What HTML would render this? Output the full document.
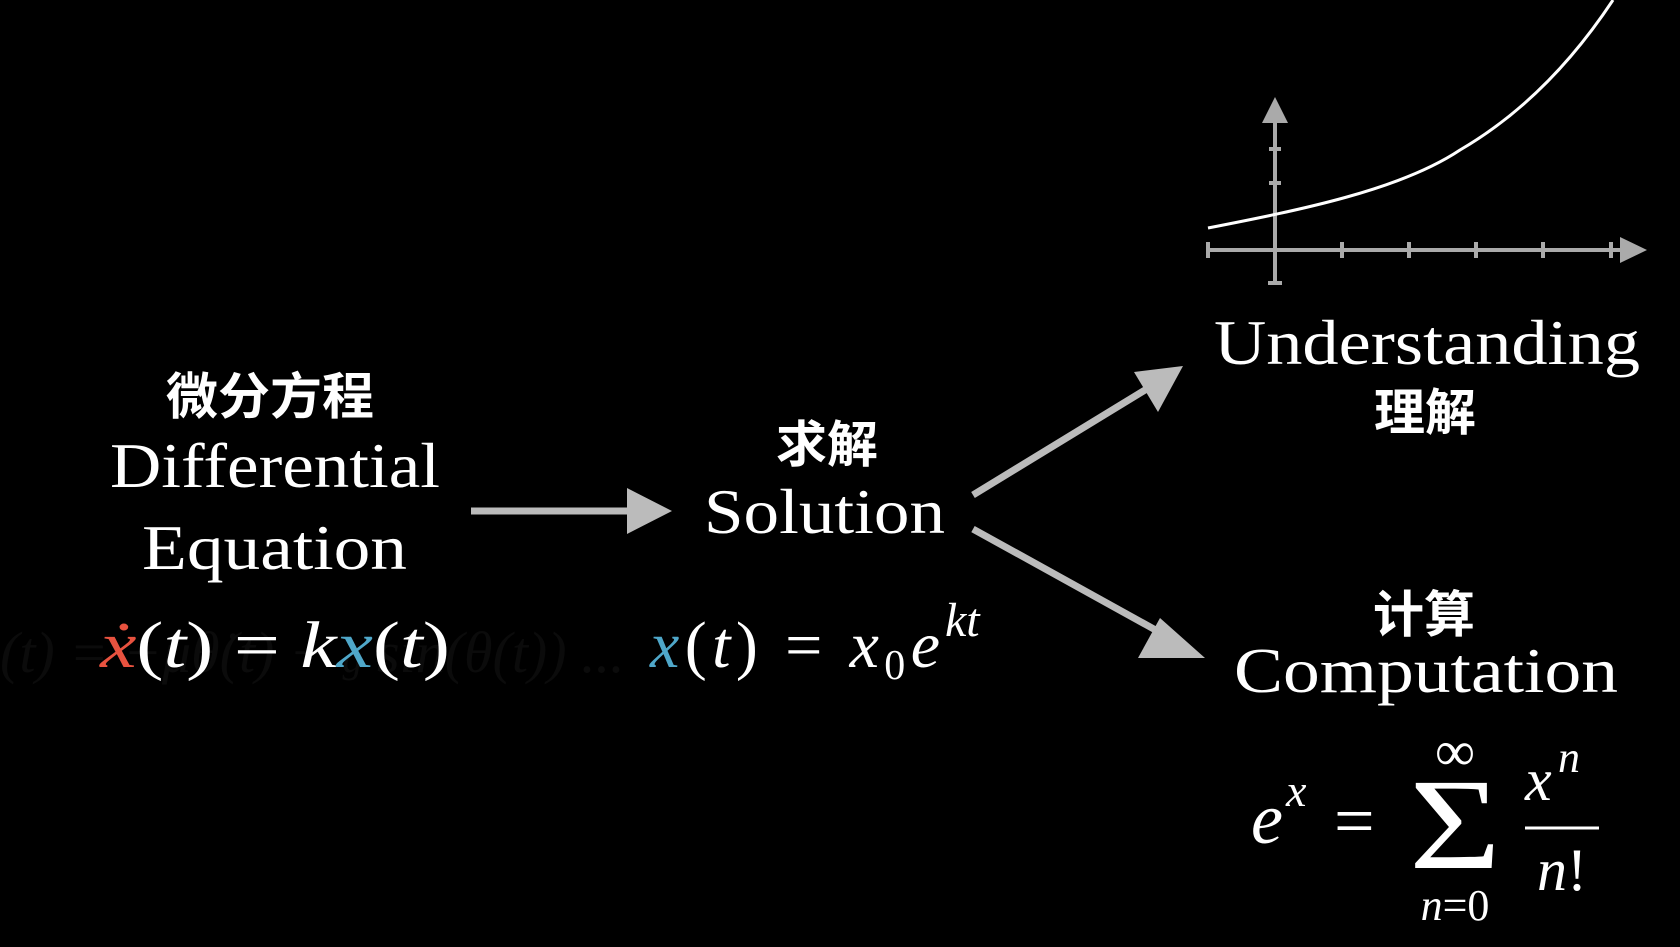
<!DOCTYPE html>
<html><head><meta charset="utf-8"><style>
html,body{margin:0;padding:0;background:#000;}
svg{display:block;}
text{font-family:"Liberation Serif","Noto Serif CJK SC",serif;fill:#fff;}
.cjk{font-family:"Noto Sans CJK SC","WenQuanYi Zen Hei",sans-serif;font-weight:bold;}
.it{font-style:italic;}
</style></head><body>
<svg width="1680" height="947" viewBox="0 0 1680 947" xmlns="http://www.w3.org/2000/svg">
<rect width="1680" height="947" fill="#000"/>
<!-- faded background equation -->
<text x="0" y="672" font-size="58" style="fill:#0b0b0b" class="it">(t) = −μθ̇(t) − <tspan font-size="40">g</tspan> sin(θ(t))   ...</text>

<!-- left block -->
<text class="cjk" x="166" y="414" font-size="50" textLength="208" lengthAdjust="spacingAndGlyphs">微分方程</text>
<text x="110" y="487" font-size="64" textLength="330" lengthAdjust="spacingAndGlyphs">Differential</text>
<text x="142" y="569" font-size="64" textLength="265" lengthAdjust="spacingAndGlyphs">Equation</text>
<text x="100" y="667" font-size="66" class="it" textLength="350" lengthAdjust="spacingAndGlyphs"><tspan style="fill:#e8523f">ẋ</tspan><tspan font-style="normal">(</tspan>t<tspan font-style="normal">) = </tspan>k<tspan style="fill:#4fa7c9">x</tspan><tspan font-style="normal">(</tspan>t<tspan font-style="normal">)</tspan></text>

<!-- arrow 1 -->
<line x1="471" y1="511" x2="632" y2="511" stroke="#bbb" stroke-width="7"/>
<polygon points="672,511 627,488 627,534" fill="#bbb"/>

<!-- middle -->
<text class="cjk" x="776" y="462" font-size="50" textLength="102" lengthAdjust="spacingAndGlyphs">求解</text>
<text x="704" y="533" font-size="64" textLength="241" lengthAdjust="spacingAndGlyphs">Solution</text>
<text x="650" y="667" font-size="66" class="it" textLength="290" lengthAdjust="spacing"><tspan style="fill:#4fa7c9">x</tspan><tspan font-style="normal">(</tspan>t<tspan font-style="normal">)  =  </tspan>x<tspan font-size="42" font-style="normal" dy="12">0</tspan><tspan dy="-12">e</tspan></text>
<text x="945" y="636" font-size="48" class="it">kt</text>

<!-- arrows 2,3 -->
<line x1="973" y1="495" x2="1150" y2="387" stroke="#bbb" stroke-width="7"/>
<polygon points="1183,366 1134,372 1158,412" fill="#bbb"/>
<line x1="973" y1="529" x2="1170" y2="638" stroke="#bbb" stroke-width="7"/>
<polygon points="1205,658 1160,618 1138,658" fill="#bbb"/>

<!-- graph -->
<g stroke="#aaa" stroke-width="4">
<line x1="1208" y1="250" x2="1625" y2="250"/>
<line x1="1275" y1="283" x2="1275" y2="118"/>
<line x1="1208" y1="242" x2="1208" y2="258"/>
<line x1="1342" y1="242" x2="1342" y2="258"/>
<line x1="1409" y1="242" x2="1409" y2="258"/>
<line x1="1476" y1="242" x2="1476" y2="258"/>
<line x1="1543" y1="242" x2="1543" y2="258"/>
<line x1="1611" y1="242" x2="1611" y2="258"/>
<line x1="1269" y1="149" x2="1281" y2="149"/>
<line x1="1269" y1="183" x2="1281" y2="183"/>
<line x1="1268" y1="283" x2="1282" y2="283"/>
</g>
<polygon points="1647,250 1620,237 1620,263" fill="#aaa"/>
<polygon points="1275,97 1262,123 1288,123" fill="#aaa"/>
<path d="M1208,228 C1300,210 1400,190 1460,150 C1520,115 1570,65 1613,0" fill="none" stroke="#fff" stroke-width="3"/>

<!-- right texts -->
<text x="1214" y="364" font-size="64" textLength="426" lengthAdjust="spacingAndGlyphs">Understanding</text>
<text class="cjk" x="1374" y="430" font-size="50" textLength="102" lengthAdjust="spacingAndGlyphs">理解</text>
<text class="cjk" x="1373" y="632" font-size="50" textLength="102" lengthAdjust="spacingAndGlyphs">计算</text>
<text x="1234" y="692" font-size="64" textLength="384" lengthAdjust="spacingAndGlyphs">Computation</text>

<!-- sum formula -->
<text x="1251" y="843" font-size="72" class="it">e</text>
<text x="1286" y="806" font-size="46" class="it">x</text>
<text x="1334" y="845" font-size="72">=</text>
<text x="1455" y="868" font-size="130" text-anchor="middle" textLength="92" lengthAdjust="spacingAndGlyphs" style="font-weight:normal">Σ</text>
<text x="1455" y="770" font-size="56" text-anchor="middle">∞</text>
<text x="1455" y="920" font-size="44" text-anchor="middle"><tspan class="it">n</tspan>=0</text>
<text x="1525" y="800" font-size="60" class="it">x</text>
<text x="1558" y="772" font-size="44" class="it">n</text>
<line x1="1525" y1="828" x2="1599" y2="828" stroke="#fff" stroke-width="3"/>
<text x="1562" y="890" font-size="60" class="it" text-anchor="middle">n<tspan font-style="normal">!</tspan></text>
</svg>
</body></html>
